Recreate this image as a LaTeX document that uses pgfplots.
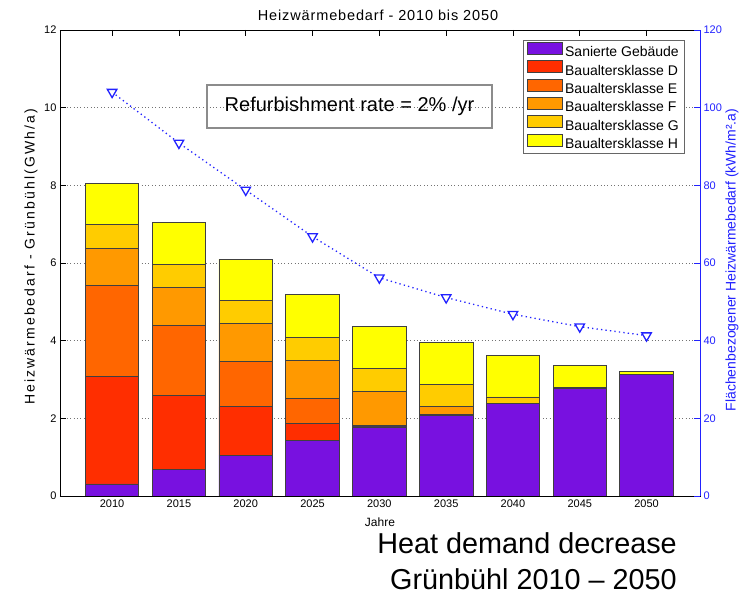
\documentclass[border=0pt]{standalone}
\usepackage{fontspec}
\setmainfont{Liberation Sans}
\newfontfamily\ylfont{Liberation Sans}[LetterSpace=15]
\newfontfamily\tfont{Liberation Sans}[LetterSpace=6]
\usepackage{pgfplots}
\pgfplotsset{compat=1.18}
\definecolor{san}{HTML}{7811E0}
\definecolor{kD}{HTML}{FF2E00}
\definecolor{kE}{HTML}{FF6600}
\definecolor{kF}{HTML}{FF9900}
\definecolor{kG}{HTML}{FFCC00}
\definecolor{kH}{HTML}{FFFF00}
\definecolor{lblue}{HTML}{2222FF}
\begin{document}
\begin{tikzpicture}[x=1pt,y=1pt]
\path[use as bounding box] (0,0) rectangle (753,596);
\begin{axis}[
  at={(60pt,100pt)}, anchor=south west,
  scale only axis, width=640pt, height=466pt,
  xmin=-0.78, xmax=8.8, ymin=0, ymax=12,
  xtick={0,...,8}, xticklabels={2010,2015,2020,2025,2030,2035,2040,2045,2050},
  ytick={0,2,...,12},
  ytick pos=left, xtick pos=both,
  tick align=inside, major tick length=6pt,
  axis line style={line width=0.6pt},
  tick style={line width=0.6pt, black},
  /pgf/number format/assume math mode=true,
  ymajorgrids, grid style={gray!90!black, line width=0.6pt, dash pattern=on 0.8pt off 2.6pt},
  ybar stacked, bar width=0.8,
  tick label style={font=\fontsize{11}{13}\selectfont},
  legend style={at={(0.7234,0.9785)}, anchor=north west, draw=black!60, line width=0.9pt, fill=white,
    font=\fontsize{14}{16}\selectfont, inner xsep=4pt, inner ysep=1.5pt, row sep=0pt,
    nodes={inner xsep=2pt, inner ysep=0.5pt, text height=10pt, text depth=3pt},
    cells={anchor=west}},
  legend image code/.code={\draw[#1, line width=0.7pt] (0pt,-1pt) rectangle (35pt,11pt);},
  every axis plot/.append style={draw=black!75, line width=0.7pt},
]
\addplot[fill=san] coordinates {(0,0.31) (1,0.69) (2,1.05) (3,1.44) (4,1.78) (5,2.08) (6,2.39) (7,2.78) (8,3.12)};
\addplot[fill=kD] coordinates {(0,2.76) (1,1.90) (2,1.25) (3,0.43) (4,0.01) (5,0) (6,0) (7,0) (8,0)};
\addplot[fill=kE] coordinates {(0,2.36) (1,1.81) (2,1.17) (3,0.65) (4,0.03) (5,0.01) (6,0) (7,0) (8,0)};
\addplot[fill=kF] coordinates {(0,0.95) (1,0.97) (2,0.98) (3,0.97) (4,0.87) (5,0.21) (6,0) (7,0) (8,0)};
\addplot[fill=kG] coordinates {(0,0.62) (1,0.60) (2,0.59) (3,0.60) (4,0.59) (5,0.58) (6,0.16) (7,0.02) (8,0.01)};
\addplot[fill=kH] coordinates {(0,1.05) (1,1.07) (2,1.06) (3,1.09) (4,1.08) (5,1.07) (6,1.08) (7,0.56) (8,0.08)};
\legend{Sanierte Gebäude, Baualtersklasse D, Baualtersklasse E, Baualtersklasse F, Baualtersklasse G, Baualtersklasse H}
\end{axis}
\begin{axis}[
  at={(60pt,100pt)}, anchor=south west,
  scale only axis, width=640pt, height=466pt,
  xmin=-0.78, xmax=8.8, ymin=0, ymax=120,
  axis y line*=right, axis x line=none,
  ytick={0,20,...,120}, tick align=inside, major tick length=6pt,
  /pgf/number format/assume math mode=true,
  y axis line style={draw=lblue, line width=0.8pt},
  ytick style={draw=lblue, line width=0.8pt},
  yticklabel style={text=lblue, font=\fontsize{11}{13}\selectfont},
]
\addplot[lblue, line width=1.3pt, dash pattern=on 1.3pt off 3.2pt, mark=triangle*, mark size=5.5pt,
  mark options={rotate=180, solid, fill=white, draw=lblue, line width=1.3pt}]
  coordinates {(0,104.0) (1,90.9) (2,78.8) (3,66.8) (4,56.2) (5,51.1) (6,46.8) (7,43.6) (8,41.3)};
\end{axis}
\node[font=\tfont\fontsize{14.5}{16}\selectfont, anchor=base] at (378,575.3) {Heizwärmebedarf - 2010 bis 2050};
\node[font=\fontsize{12}{14}\selectfont] at (380,74) {Jahre};
\node[font=\ylfont\fontsize{14}{16}\selectfont, rotate=90] at (31,339) {Heizwärmebedarf - Grünbühl(GWh/a)};
\node[font=\fontsize{14}{16}\selectfont, rotate=90, text=lblue] at (732,336) {Flächenbezogener Heizwärmebedarf (kWh/m².a)};
\node[draw=gray!90, line width=1.6pt, minimum width=285pt, minimum height=43pt, inner sep=0pt,
  font=\fontsize{20}{24}\selectfont] at (349.5,489.5) {Refurbishment rate = 2\% /yr};
\node[font=\fontsize{28.8}{32}\selectfont, anchor=base east, inner sep=0pt] at (677,42) {Heat demand decrease};
\node[font=\fontsize{28.8}{32}\selectfont, anchor=base east, inner sep=0pt] at (677,6) {Grünbühl 2010 – 2050};
\end{tikzpicture}
\end{document}
